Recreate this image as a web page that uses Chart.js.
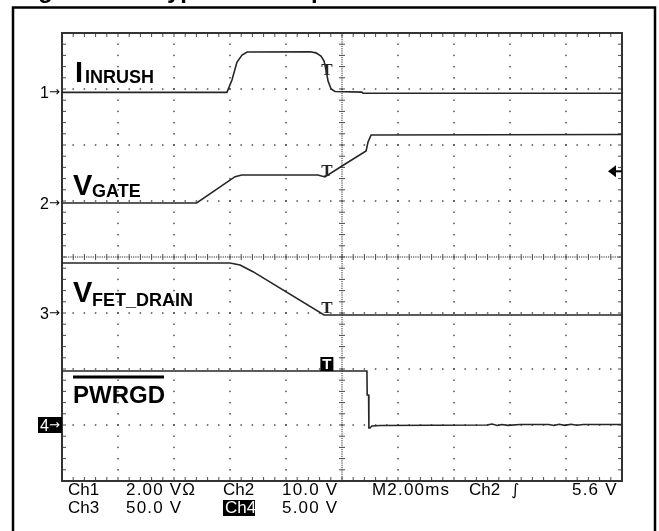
<!DOCTYPE html>
<html>
<head>
<meta charset="utf-8">
<script src="https://cdn.jsdelivr.net/npm/chart.js@4.4.0/dist/chart.umd.min.js"></script>
<style>
html,body{margin:0;padding:0;background:#fff;overflow:hidden}
canvas{display:block}
</style>
</head>
<body>
<canvas id="c" width="659" height="531"></canvas>
<script>
// ---- Data (time in ms, 2.00 ms/div, trigger near centre) ----
const inrushTime  = [-10, -4.11, -3.93, -3.75, -3.57, -3.39, -1.14, -0.93, -0.75, -0.64, -0.57, -0.50, -0.39, -0.25, 0.71, 0.75, 10];
const inrushValue = [-0.02, -0.02, 0.42, 1.06, 1.31, 1.42, 1.43, 1.39, 1.28, 1.10, 0.78, 0.39, 0.10, 0.01, -0.01, -0.05, -0.05];

const gateTime  = [-10, -5.19, -3.82, -3.58, -0.86, -0.61, 0, 0.86, 0.93, 1.04, 10];
const gateValue = [-0.05, -0.05, 4.64, 4.95, 4.95, 4.59, 6.55, 9.23, 10.84, 12.09, 12.18];

const drainTime  = [-10, -4.0, -3.64, -3.18, -0.64, 10];
const drainValue = [44.6, 44.6, 42.9, 36.9, -1.8, -1.8];

const pwrgdTime  = [-10, 0.89, 0.90, 0.95, 0.96, 1.0, 1.07, 1.36, 5.18, 5.36, 5.54, 5.71, 5.93, 6.36, 7.39, 7.57, 7.75, 7.96, 8.18, 8.39, 8.61, 10];
const pwrgdValue = [4.82, 4.82, 2.68, 2.68, -0.27, -0.27, -0.09, -0.04, 0.0, 0.09, -0.04, 0.05, -0.03, 0.05, 0.05, -0.04, 0.07, -0.03, 0.06, -0.02, 0.05, 0.04];

const channelNames   = ['Ch1', 'Ch2', 'Ch3', 'Ch4'];
const voltsPerDiv    = [2, 10, 50, 5];
const groundDivision = [6.95, 4.97, 3.0, 1.0];
const triggerTime  = -0.54;
const triggerLevel = 5.6;   // volts on Ch2

const readoutRow1 = ['Ch1', '2.00 V\u03A9', 'Ch2', '10.0 V', 'M2.00ms', 'Ch2', '\u222B', '5.6 V'];
const readoutRow2 = ['Ch3', '50.0 V', 'Ch4', '5.00 V'];

// ---- Build datasets ----
const series = [[inrushTime, inrushValue], [gateTime, gateValue], [drainTime, drainValue], [pwrgdTime, pwrgdValue]];
const datasets = series.map(([t, v], i) => ({
  label: channelNames[i],
  data: t.map((tt, k) => ({ x: tt, y: groundDivision[i] + v[k] / voltsPerDiv[i] })),
  borderColor: '#262626',
  borderWidth: 1.6,
  pointRadius: 0,
  tension: 0,
  fill: false
}));

function valueAt(i, time) {
  const [t, v] = series[i];
  for (let k = 0; k < t.length - 1; k++) {
    if (time >= t[k] && time <= t[k + 1]) {
      const f = (time - t[k]) / (t[k + 1] - t[k]);
      return groundDivision[i] + (v[k] + f * (v[k + 1] - v[k])) / voltsPerDiv[i];
    }
  }
  return groundDivision[i];
}

const graticule = {
  id: 'graticule',
  beforeDatasetsDraw(chart) {
    const ctx = chart.ctx;
    const { left, right, top, bottom } = chart.chartArea;
    const xs = chart.scales.x, ys = chart.scales.y;
    const dw = (right - left) / 10, dh = (bottom - top) / 8;
    ctx.save();
    ctx.fillStyle = '#4a4a4a';
    for (let i = 1; i < 10; i++) {
      if (i === 5) continue;
      const x = xs.getPixelForValue(-10 + i * 2);
      for (let k = 1; k < 40; k++) ctx.fillRect(x - 0.75, top + k * dh / 5 - 0.75, 1.5, 1.5);
    }
    for (let j = 1; j < 8; j++) {
      if (j === 4) continue;
      const y = ys.getPixelForValue(j);
      for (let k = 1; k < 50; k++) ctx.fillRect(left + k * dw / 5 - 0.75, y - 0.75, 1.5, 1.5);
    }
    const cx = xs.getPixelForValue(0), cy = ys.getPixelForValue(4);
    for (let k = 1; k < 200; k++) ctx.fillRect(cx - 0.6, top + k * dh / 25 - 0.6, 1.2, 1.2);
    for (let k = 1; k < 250; k++) ctx.fillRect(left + k * dw / 25 - 0.6, cy - 0.6, 1.2, 1.2);
    ctx.strokeStyle = '#4a4a4a';
    ctx.lineWidth = 1;
    ctx.beginPath();
    for (let k = 1; k < 40; k++) { const y = top + k * dh / 5; ctx.moveTo(cx - 3, y); ctx.lineTo(cx + 3, y); }
    for (let k = 1; k < 50; k++) { const x = left + k * dw / 5; ctx.moveTo(x, cy - 3); ctx.lineTo(x, cy + 3); }
    for (let k = 1; k < 50; k++) {
      const x = left + k * dw / 5;
      ctx.moveTo(x, top); ctx.lineTo(x, top + 4);
      ctx.moveTo(x, bottom); ctx.lineTo(x, bottom - 4);
    }
    for (let k = 1; k < 40; k++) {
      const y = top + k * dh / 5;
      ctx.moveTo(left, y); ctx.lineTo(left + 4, y);
      ctx.moveTo(right, y); ctx.lineTo(right - 4, y);
    }
    ctx.stroke();
    ctx.strokeStyle = '#333';
    ctx.lineWidth = 2;
    ctx.strokeRect(left, top, right - left, bottom - top);
    ctx.restore();
  }
};

const annotations = {
  id: 'annotations',
  afterDatasetsDraw(chart) {
    const ctx = chart.ctx;
    const { left, right, top, bottom } = chart.chartArea;
    const xs = chart.scales.x, ys = chart.scales.y;
    ctx.save();
    ctx.fillStyle = '#000';
    ctx.textBaseline = 'alphabetic';
    ctx.textAlign = 'left';

    // Channel labels
    const big = "bold 29px 'Liberation Sans', Arial, sans-serif";
    const sub = "bold 18px 'Liberation Sans', Arial, sans-serif";
    ctx.font = big; ctx.fillText('I', 75, 82);
    ctx.font = sub; ctx.fillText('INRUSH', 85, 83);
    ctx.font = big; ctx.fillText('V', 73, 195);
    ctx.font = sub; ctx.fillText('GATE', 92, 197);
    ctx.font = big; ctx.fillText('V', 73, 302);
    ctx.font = sub; ctx.fillText('FET_DRAIN', 92, 306);
    ctx.font = "bold 24px 'Liberation Sans', Arial, sans-serif";
    ctx.fillText('PWRGD', 73, 403);
    ctx.fillRect(73, 375.5, 91, 3);

    // Trigger "T" markers
    const tx = xs.getPixelForValue(triggerTime);
    ctx.font = "bold 17px 'Liberation Serif', serif";
    ctx.textAlign = 'center';
    ctx.fillStyle = '#262626';
    for (let i = 0; i < 3; i++) {
      const y = ys.getPixelForValue(valueAt(i, triggerTime));
      ctx.fillText('T', tx, Math.min(y, ys.getPixelForValue(groundDivision[i])));
    }
    const y4 = ys.getPixelForValue(valueAt(3, triggerTime));
    ctx.fillStyle = '#000';
    ctx.fillRect(tx - 6.5, y4 - 14, 13, 14);
    ctx.fillStyle = '#fff';
    ctx.font = "bold 15px 'Liberation Sans', Arial, sans-serif";
    ctx.fillText('T', tx, y4 - 2);

    // Ground markers
    ctx.textAlign = 'left';
    for (let i = 0; i < 4; i++) {
      const y = ys.getPixelForValue(groundDivision[i]);
      if (i === 3) {
        ctx.fillStyle = '#000';
        ctx.fillRect(38, y - 8, 24, 16);
        ctx.fillStyle = '#fff';
      } else {
        ctx.fillStyle = '#000';
      }
      ctx.font = "16px 'Liberation Sans', Arial, sans-serif";
      ctx.fillText(String(i + 1), 40, y + 6);
      ctx.font = "13px 'DejaVu Sans', sans-serif";
      ctx.fillText('\u2192', 49, y + 4);
    }

    // Trigger level arrow (Ch2, 5.6 V)
    const ty = ys.getPixelForValue(groundDivision[1] + triggerLevel / voltsPerDiv[1]);
    ctx.fillStyle = '#000';
    ctx.beginPath();
    ctx.moveTo(right - 14, ty);
    ctx.lineTo(right - 6, ty - 6);
    ctx.lineTo(right - 6, ty + 6);
    ctx.closePath();
    ctx.fill();
    ctx.fillRect(right - 7, ty - 1, 7, 2);

    // Readouts
    const ro = "17px 'Liberation Sans', Arial, sans-serif";
    ctx.fillStyle = '#000';
    const row1x = [68, 126, 223, 282, 372, 469, 511, 572];
    readoutRow1.forEach((s, k) => {
      if (s === '\u222B') { ctx.font = "italic 16px 'DejaVu Sans', sans-serif"; ctx.letterSpacing = '0px'; }
      else { ctx.font = ro; ctx.letterSpacing = s.startsWith('Ch') ? '0px' : '1.2px'; }
      ctx.fillText(s, row1x[k], 495);
    });
    const row2x = [68, 126, 225, 282];
    ctx.font = ro;
    readoutRow2.forEach((s, k) => {
      ctx.letterSpacing = s.startsWith('Ch') ? '0px' : '1.2px';
      if (s === 'Ch4') {
        ctx.fillStyle = '#000';
        ctx.fillRect(223, 500, 32, 16);
        ctx.fillStyle = '#fff';
      } else ctx.fillStyle = '#000';
      ctx.fillText(s, row2x[k], 513);
    });
    ctx.letterSpacing = '0px';

    // Outer figure frame and cut-off caption
    ctx.fillStyle = '#000';
    ctx.strokeStyle = '#000';
    ctx.lineWidth = 2.5;
    ctx.beginPath();
    ctx.moveTo(13, 531); ctx.lineTo(13, 7.5); ctx.lineTo(655, 7.5); ctx.lineTo(655, 531);
    ctx.stroke();
    ctx.textBaseline = 'alphabetic';
    ctx.font = "bold 24px 'Liberation Sans', Arial, sans-serif";
    ctx.fillText('Figure 13.', 17, -2.5);
    ctx.fillText('Typical Startup Waveforms', 154, -2.5);
    ctx.restore();
  }
};

new Chart(document.getElementById('c').getContext('2d'), {
  type: 'line',
  data: { datasets },
  options: {
    responsive: false,
    animation: false,
    devicePixelRatio: 1,
    layout: { padding: { left: 62, right: 37, top: 33, bottom: 50 } },
    plugins: { legend: { display: false }, tooltip: { enabled: false }, title: { display: false } },
    scales: {
      x: { type: 'linear', min: -10, max: 10, display: false },
      y: { type: 'linear', min: 0, max: 8, display: false }
    }
  },
  plugins: [graticule, annotations]
});
</script>
</body>
</html>
